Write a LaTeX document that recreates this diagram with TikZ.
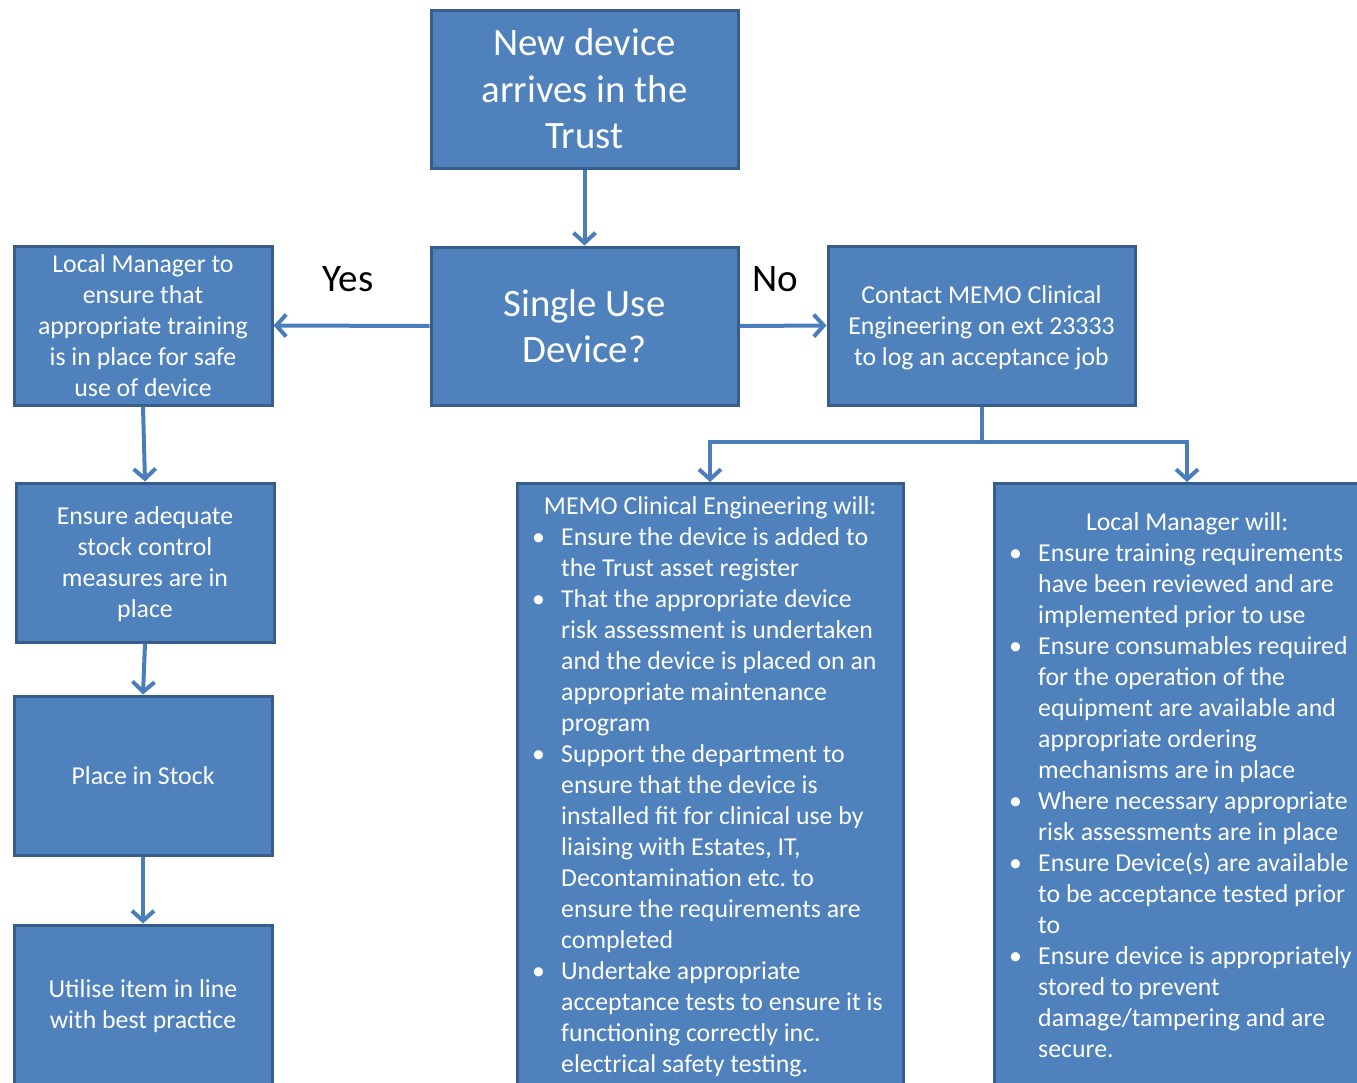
\documentclass[tikz,border=0pt]{standalone}
\usepackage{fontspec}
\setmainfont{Carlito}
\usetikzlibrary{arrows.meta}
\definecolor{boxfill}{HTML}{4F81BD}
\definecolor{boxline}{HTML}{385D8A}
\definecolor{connblue}{HTML}{4A7EBB}
\newcommand{\blt}{\makebox[29pt][l]{\textbullet}}
\frenchspacing
\begin{document}
\begin{tikzpicture}[x=1pt,y=-1pt,
  box/.style={draw=boxline, line width=3pt, fill=boxfill, text=white, align=center, inner sep=0pt, text depth=0pt, font=\fontsize{25.8}{31}\selectfont},
  big/.style={font=\fontsize{38.8}{46.5}\selectfont},
  smallbox/.style={box, minimum width=258pt, minimum height=159pt},
  widebox/.style={box, minimum width=307pt, minimum height=158pt},
  listbox/.style={box, minimum width=386pt, minimum height=640pt, anchor=north},
  listtext/.style={anchor=base west, text=white, inner sep=0pt, font=\fontsize{25.8}{31}\selectfont},
  lbl/.style={inner sep=0pt, text=black, font=\fontsize{39}{46}\selectfont},
  flow/.style={draw=connblue, line width=4pt, -{Straight Barb[length=10pt,width=22pt]}}
]
\useasboundingbox (0,0) rectangle (1357,1082);
\clip (0,0) rectangle (1357,1082);
\fill[white] (0,0) rectangle (1357,1082);

\node[widebox, big] (new) at (584.5,89) {New device\\arrives in the\\Trust};
\node[widebox, big] (single) at (584.5,326) {Single Use\\Device?};
\node[smallbox] (lmt) at (143,325.5) {Local Manager to\\ensure that\\appropriate training\\is in place for safe\\use of device};
\node[widebox, minimum height=159pt] (contact) at (981.5,325.5) {Contact MEMO Clinical\\Engineering on ext 23333\\to log an acceptance job};
\node[smallbox] (stock) at (145,562.5) {Ensure adequate\\stock control\\measures are in\\place};
\node[smallbox] (place) at (143,775.5) {Place in Stock};
\node[smallbox] (util) at (143,1004.5) {Utilise item in line\\with best practice};
\node[listbox] (memo) at (710,482) {};
\node[listbox] (lmw) at (1187,482) {};

\node[listtext] (memotxt) at (532,514) {\begin{tabular}[t]{@{}l@{}l@{}}
\multicolumn{2}{@{}l@{}}{\makebox[356pt][c]{MEMO Clinical Engineering will:}}\\
\blt & Ensure the device is added to\\
 & the Trust asset register\\
\blt & That the appropriate device\\
 & risk assessment is undertaken\\
 & and the device is placed on an\\
 & appropriate maintenance\\
 & program\\
\blt & Support the department to\\
 & ensure that the device is\\
 & installed fit for clinical use by\\
 & liaising with Estates, IT,\\
 & Decontamination etc. to\\
 & ensure the requirements are\\
 & completed\\
\blt & Undertake appropriate\\
 & acceptance tests to ensure it is\\
 & functioning correctly inc.\\
 & electrical safety testing.
\end{tabular}};

\node[listtext] (lmwtxt) at (1009,530) {\begin{tabular}[t]{@{}l@{}l@{}}
\multicolumn{2}{@{}l@{}}{\makebox[356pt][c]{Local Manager will:}}\\
\blt & Ensure training requirements\\
 & have been reviewed and are\\
 & implemented prior to use\\
\blt & Ensure consumables required\\
 & for the operation of the\\
 & equipment are available and\\
 & appropriate ordering\\
 & mechanisms are in place\\
\blt & Where necessary appropriate\\
 & risk assessments are in place\\
\blt & Ensure Device(s) are available\\
 & to be acceptance tested prior\\
 & to\\
\blt & Ensure device is appropriately\\
 & stored to prevent\\
 & damage/tampering and are\\
 & secure.
\end{tabular}};

\node[lbl] (yes) at (348,279) {Yes};
\node[lbl] (no) at (775,279) {No};

\draw[flow] (new.south) -- (single.north);
\draw[flow] (single.west) -- (lmt.east);
\draw[flow] (single.east) -- (contact.west);
\draw[flow] (contact.south) -- ++(0,35) -| (memo.north);
\draw[flow] (contact.south) -- ++(0,35) -| (lmw.north);
\draw[flow] (lmt.south) -- (stock.north);
\draw[flow] (stock.south) -- (place.north);
\draw[flow] (place.south) -- (util.north);
\end{tikzpicture}
\end{document}
